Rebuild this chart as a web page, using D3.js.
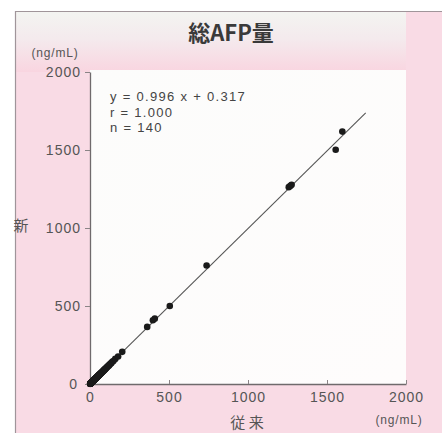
<!DOCTYPE html>
<html>
<head>
<meta charset="utf-8">
<script src="https://cdn.jsdelivr.net/npm/d3@7/dist/d3.min.js"></script>
<style>
  html, body { margin: 0; padding: 0; background: #ffffff; }
  svg { display: block; }
</style>
</head>
<body>
<script>
// 総AFP量: conventional method (従来) vs new method (新), ng/mL
const oldMethod = [
  1.2, 1.8, 2.5, 3.1, 3.6, 4.2, 4.8, 5.5, 6.1, 6.9,
  7.4, 8.0, 8.8, 9.5, 10.2, 11.0, 11.6, 12.3, 13.1, 13.9,
  14.6, 15.2, 16.0, 16.9, 17.5, 18.3, 19.0, 19.8, 20.7, 21.4,
  22.3, 23.0, 24.1, 25.2, 26.0, 27.1, 28.3, 29.0, 30.2, 31.5,
  32.4, 33.8, 35.0, 36.2, 37.5, 38.9, 40.1, 41.6, 43.0, 44.2,
  45.8, 47.1, 48.5, 50.2, 51.6, 53.0, 54.9, 56.3, 58.0, 59.8,
  61.5, 63.2, 65.0, 67.4, 69.1, 71.3, 73.5, 75.8, 78.0, 80.6,
  83.1, 85.9, 88.2, 91.0, 94.4, 97.3, 100.5, 104.2, 108.0, 112.5,
  117.0, 122.4, 128.0, 134.5, 141.0, 148.2, 2.0, 3.3, 4.5, 6.0,
  7.2, 9.1, 10.8, 12.7, 14.9, 17.2, 19.5, 22.0, 24.8, 27.6,
  30.5, 34.1, 38.0, 42.3, 46.9, 52.4, 57.7, 63.9, 70.2, 77.5,
  86.0, 95.1, 105.3, 118.6, 0.8, 1.5, 2.9, 5.0, 8.4, 11.9,
  16.4, 21.1, 26.7, 33.0, 39.6, 47.8, 55.2,
  160, 204, 362, 398, 410, 505, 738, 1258, 1268, 1276, 1555, 1597, 178
];
const newMethod = [
  1.3, 1.9, 2.4, 3.2, 3.5, 4.3, 4.9, 5.4, 6.2, 6.8,
  7.5, 8.1, 8.7, 9.6, 10.1, 11.2, 11.5, 12.4, 13.0, 14.1,
  14.5, 15.3, 16.2, 16.8, 17.7, 18.1, 19.2, 19.7, 20.9, 21.2,
  22.5, 22.8, 24.3, 25.0, 26.3, 26.9, 28.6, 28.8, 30.5, 31.2,
  32.8, 33.5, 35.3, 35.9, 37.9, 38.6, 40.5, 41.2, 43.4, 43.9,
  46.2, 46.8, 48.9, 49.8, 52.0, 52.6, 55.3, 55.9, 58.5, 59.3,
  62.0, 62.7, 65.6, 66.9, 69.8, 70.6, 74.1, 75.2, 78.6, 79.9,
  83.8, 85.2, 88.9, 90.3, 95.1, 96.5, 101.2, 103.4, 108.9, 111.6,
  118.0, 121.5, 129.0, 133.6, 142.1, 147.0, 2.1, 3.2, 4.6, 5.9,
  7.3, 9.0, 10.9, 12.6, 15.1, 17.0, 19.7, 21.8, 25.1, 27.3,
  30.8, 33.8, 38.4, 41.9, 47.3, 52.0, 58.2, 63.4, 70.8, 76.9,
  86.7, 94.4, 106.1, 117.7, 0.9, 1.4, 3.0, 4.9, 8.5, 11.8,
  16.6, 20.9, 27.0, 32.7, 40.0, 47.4, 55.7,
  161, 206, 366, 409, 419, 500, 760, 1262, 1270, 1277, 1502, 1618, 176
];

// regression y = slope * x + intercept, drawn over this x range
const slope = 0.996;
const intercept = 0.317;
const fitRange = [0, 1745];

const tickValues = [0, 500, 1000, 1500, 2000];
const statLines = ["y = 0.996 x + 0.317", "r = 1.000", "n = 140"];
const titleText = "総AFP量";
const unitText = "(ng/mL)";
const xAxisTitle = "従 来";
const yAxisTitle = "新";

const W = 442, H = 435;
const plot = { left: 90, right: 406, top: 72, bottom: 384 };

const svg = d3.select("body").append("svg").attr("width", W).attr("height", H);
const defs = svg.append("defs");

const tg = defs.append("linearGradient").attr("id", "titleBand")
  .attr("x1", 0).attr("y1", 0).attr("x2", 0).attr("y2", 1);
tg.append("stop").attr("offset", "0%").attr("stop-color", "#f3f4f1");
tg.append("stop").attr("offset", "45%").attr("stop-color", "#f4eaed");
tg.append("stop").attr("offset", "100%").attr("stop-color", "#f9d5e0");

const pg = defs.append("linearGradient").attr("id", "plotBg")
  .attr("x1", 0).attr("y1", 0).attr("x2", 1).attr("y2", 1);
pg.append("stop").attr("offset", "0%").attr("stop-color", "#fcfcfb");
pg.append("stop").attr("offset", "100%").attr("stop-color", "#fefcfc");

// frame
svg.append("rect").attr("x", 15).attr("y", 11).attr("width", 427).attr("height", 422)
  .attr("fill", "#f9dbe5");
svg.append("rect").attr("x", 15).attr("y", 12).attr("width", 391).attr("height", 60)
  .attr("fill", "url(#titleBand)");
svg.append("rect").attr("x", plot.left).attr("y", plot.top - 2)
  .attr("width", plot.right - plot.left).attr("height", plot.bottom - plot.top + 2)
  .attr("fill", "url(#plotBg)");
svg.append("line").attr("x1", 15).attr("x2", 442).attr("y1", 11.5).attr("y2", 11.5)
  .attr("stroke", "#a0959a").attr("stroke-width", 1.2);
svg.append("line").attr("x1", 15.5).attr("x2", 15.5).attr("y1", 11).attr("y2", 433)
  .attr("stroke", "#a0959a").attr("stroke-width", 1.2);

const x = d3.scaleLinear().domain([0, 2000]).range([plot.left, plot.right]);
const y = d3.scaleLinear().domain([0, 2000]).range([plot.bottom, plot.top]);

const numFont = "'Liberation Sans', Arial, sans-serif";
const jpFont = "'Noto Sans CJK JP', sans-serif";
const fmt = d3.format("d");

// axes
const xAxis = svg.append("g").attr("transform", `translate(0,${plot.bottom})`)
  .call(d3.axisBottom(x).tickValues(tickValues).tickFormat(fmt)
    .tickSize(-4).tickPadding(8).tickSizeOuter(0));
const yAxis = svg.append("g").attr("transform", `translate(${plot.left},0)`)
  .call(d3.axisLeft(y).tickValues(tickValues).tickFormat(fmt)
    .tickSize(5).tickPadding(4).tickSizeOuter(0));
[xAxis, yAxis].forEach(g => {
  g.select(".domain").attr("stroke", "#6f6a6c").attr("stroke-width", 1.3);
  g.selectAll(".tick line").attr("stroke", "#8a8486");
  g.selectAll(".tick text").attr("fill", "#555").attr("font-family", numFont)
    .attr("font-size", 14).attr("letter-spacing", "1px");
});
yAxis.selectAll(".tick text").attr("x", -9);
yAxis.select(".tick text").attr("x", -12);

// fit line
svg.append("line")
  .attr("x1", x(fitRange[0])).attr("y1", y(slope * fitRange[0] + intercept))
  .attr("x2", x(fitRange[1])).attr("y2", y(slope * fitRange[1] + intercept))
  .attr("stroke", "#555").attr("stroke-width", 1.1);

// points
svg.append("g").selectAll("circle")
  .data(oldMethod.map((v, i) => [v, newMethod[i]]))
  .join("circle")
  .attr("cx", d => x(d[0])).attr("cy", d => y(d[1]))
  .attr("r", 3.3).attr("fill", "#1a1a1a");

// title
svg.append("text").attr("x", 231).attr("y", 41).attr("text-anchor", "middle")
  .attr("font-family", jpFont).attr("font-weight", "bold").attr("font-size", 22)
  .attr("fill", "#3a3a3a").text(titleText);

// stats text
svg.append("g").selectAll("text").data(statLines).join("text")
  .attr("x", 110).attr("y", (d, i) => 101 + i * 15.6)
  .attr("font-family", numFont).attr("font-size", 13).attr("fill", "#444")
  .attr("letter-spacing", "1.3px")
  .text(d => d);

// unit labels and axis titles
svg.append("text").attr("x", 55).attr("y", 57).attr("text-anchor", "middle")
  .attr("font-family", numFont).attr("font-size", 12).attr("letter-spacing", "0.8px")
  .attr("fill", "#555").text(unitText);
svg.append("text").attr("x", 399).attr("y", 424).attr("text-anchor", "middle")
  .attr("font-family", numFont).attr("font-size", 12).attr("letter-spacing", "0.8px")
  .attr("fill", "#555").text(unitText);
svg.append("text").attr("x", 247).attr("y", 428).attr("text-anchor", "middle")
  .attr("font-family", jpFont).attr("font-size", 15).attr("fill", "#555").text(xAxisTitle);
svg.append("text").attr("x", 21).attr("y", 231).attr("text-anchor", "middle")
  .attr("font-family", jpFont).attr("font-size", 15).attr("fill", "#555").text(yAxisTitle);
</script>
</body>
</html>
